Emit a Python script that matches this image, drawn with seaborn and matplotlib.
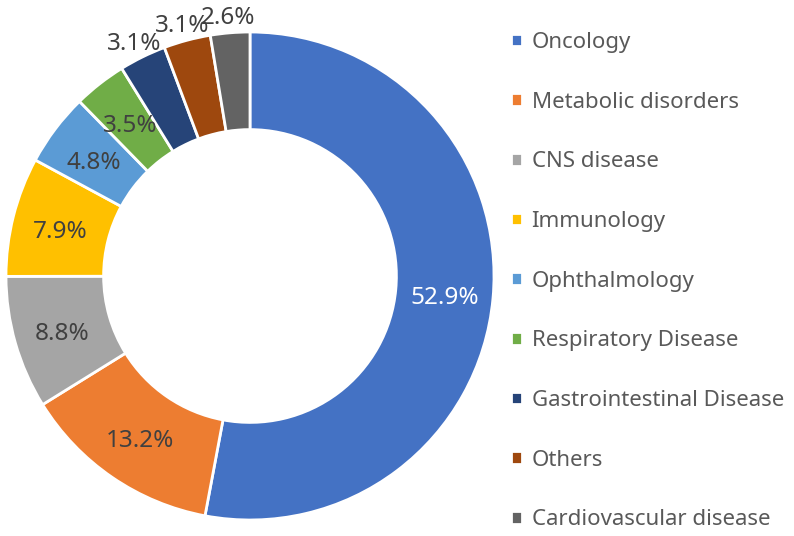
import numpy as np
import pandas as pd
import matplotlib
matplotlib.use("Agg")
import matplotlib.pyplot as plt
import seaborn as sns

# data
areas = ["Oncology", "Metabolic disorders", "CNS disease", "Immunology",
         "Ophthalmology", "Respiratory Disease", "Gastrointestinal Disease",
         "Others", "Cardiovascular disease"]
shares = [52.9, 13.2, 8.8, 7.9, 4.8, 3.5, 3.1, 3.1, 2.6]
hex_colors = ["#4472C4", "#ED7D31", "#A5A5A5", "#FFC000", "#5B9BD5",
              "#70AD47", "#264478", "#9E480E", "#636363"]
outside = ["Gastrointestinal Disease", "Others", "Cardiovascular disease"]

df = pd.DataFrame({"area": areas, "share": shares})

sns.set_theme(style="white")
plt.rcParams["font.family"] = ["Noto Sans", "DejaVu Sans"]
palette = sns.color_palette(hex_colors)

fig = plt.figure(figsize=(7.94, 5.36), dpi=100)
ax = fig.add_axes([6 / 794, 16 / 536, 488 / 794, 488 / 536])

wedges, _ = ax.pie(df["share"], colors=palette, startangle=90, counterclock=False,
                   radius=1.0, wedgeprops=dict(width=0.4, edgecolor="white", linewidth=2))

# percentage labels, small slices go outside the ring
for w, (name, val) in zip(wedges, zip(df["area"], df["share"])):
    mid = np.deg2rad((w.theta1 + w.theta2) / 2)
    r = 1.08 if name in outside else 0.8
    col = "white" if name == "Oncology" else "#404040"
    ax.annotate(f"{val:.1f}%", (r * np.cos(mid), r * np.sin(mid)), xytext=(0, -3),
                textcoords="offset points", ha="center", va="center",
                fontsize=17.5, color=col, annotation_clip=False)

ax.set_xlim(-1, 1)
ax.set_ylim(-1, 1)
ax.set_aspect("equal")
ax.axis("off")

leg = fig.legend(wedges, df["area"], loc="upper left", bbox_to_anchor=(502 / 794, 1 - 23 / 536),
                 frameon=False, fontsize=16, handlelength=0.5, handleheight=0.5,
                 handletextpad=0.43, labelspacing=1.74, borderaxespad=0)
for t in leg.get_texts():
    t.set_color("#595959")

fig.savefig("out.png", dpi=100)
